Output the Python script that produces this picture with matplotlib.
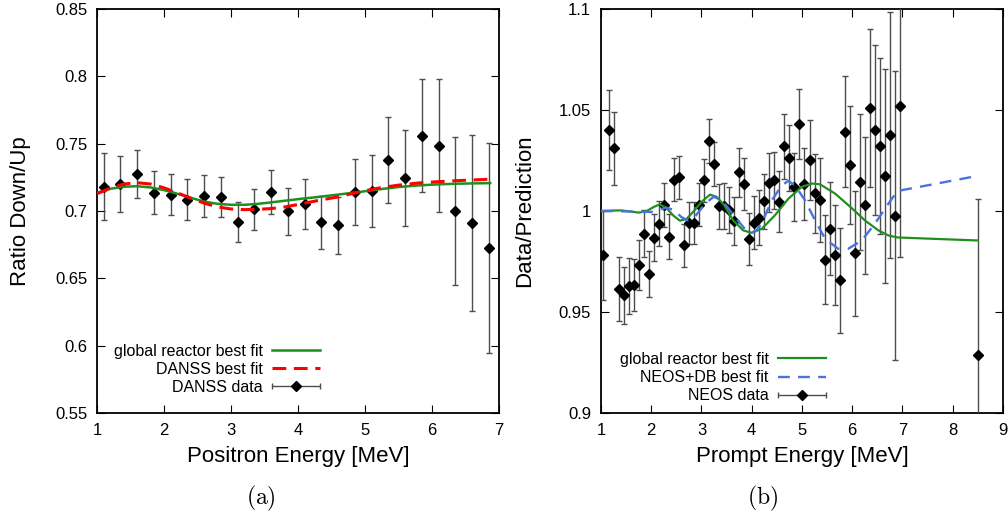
import numpy as np
import matplotlib
matplotlib.use("Agg")
import matplotlib.pyplot as plt
from matplotlib.container import ErrorbarContainer
from matplotlib.legend_handler import HandlerErrorbar

plt.rcParams['font.family'] = ['Liberation Sans', 'DejaVu Sans']
plt.rcParams['mathtext.fontset'] = 'cm'

# (a) DANSS ratio down/up
danss_e = [1.1, 1.35, 1.6, 1.85, 2.1, 2.35, 2.6, 2.85, 3.1, 3.35, 3.6, 3.85,
           4.1, 4.35, 4.6, 4.85, 5.1, 5.35, 5.6, 5.85, 6.1, 6.35, 6.6, 6.85]
danss_r = [0.7179, 0.7199, 0.7275, 0.7136, 0.7122, 0.7084, 0.7112, 0.7102,
           0.6921, 0.7012, 0.7141, 0.6998, 0.7052, 0.6916, 0.6893, 0.7141,
           0.7151, 0.7382, 0.7248, 0.7560, 0.7486, 0.6998, 0.6911, 0.6727]
danss_err = [0.0248, 0.0206, 0.018, 0.016, 0.0155, 0.015, 0.0153, 0.015,
             0.0148, 0.0154, 0.0165, 0.0174, 0.0187, 0.0196, 0.0213, 0.0243,
             0.0268, 0.0319, 0.0357, 0.042, 0.0497, 0.055, 0.065, 0.078]

fit_e_a = [1.0, 1.2, 1.4, 1.6, 1.8, 2.0, 2.2, 2.4, 2.6, 2.8, 3.0, 3.2, 3.4,
           3.6, 3.8, 4.0, 4.3, 4.6, 4.9, 5.2, 5.5, 5.8, 6.1, 6.4, 6.87]
glob_a = [0.7134, 0.7165, 0.7180, 0.7184, 0.7175, 0.7155, 0.7128, 0.7098,
          0.7070, 0.7053, 0.7046, 0.7046, 0.7053, 0.7064, 0.7076, 0.7088,
          0.7104, 0.7122, 0.7140, 0.7160, 0.7178, 0.7190, 0.7198, 0.7203,
          0.7207]
danss_fit = [0.7128, 0.7170, 0.7200, 0.7210, 0.7200, 0.7172, 0.7135, 0.7095,
             0.7058, 0.7030, 0.7015, 0.7010, 0.7012, 0.7018, 0.7030, 0.7048,
             0.7078, 0.7105, 0.7140, 0.7170, 0.7192, 0.7208, 0.7218, 0.7226,
             0.7236]

# (b) NEOS data/prediction
neos_e = [1.05, 1.15, 1.25, 1.35, 1.45, 1.55, 1.65, 1.75, 1.85, 1.95,
          2.05, 2.15, 2.25, 2.35, 2.45, 2.55, 2.65, 2.75, 2.85, 2.95,
          3.05, 3.15, 3.25, 3.35, 3.45, 3.55, 3.65, 3.75, 3.85, 3.95,
          4.05, 4.15, 4.25, 4.35, 4.45, 4.55, 4.65, 4.75, 4.85, 4.95,
          5.05, 5.15, 5.25, 5.35, 5.45, 5.55, 5.65, 5.75, 5.85, 5.95,
          6.05, 6.15, 6.25, 6.35, 6.45, 6.55, 6.65, 6.75, 6.85, 6.95, 8.5]
neos_r = [0.978, 1.0402, 1.031, 0.9613, 0.9583, 0.9629, 0.9634, 0.9733, 0.9887, 0.9687,
          0.9868, 0.9937, 1.0031, 0.9873, 1.0154, 1.0166, 0.983, 0.9939, 0.9939, 1.0031,
          1.0151, 1.0348, 1.0232, 1.0023, 1.0026, 1.0005, 0.9952, 1.0192, 1.0132, 0.9861,
          0.9942, 0.9967, 1.0048, 1.0141, 1.0152, 1.0046, 1.032, 1.0262, 1.0118, 1.043,
          1.0134, 1.025, 1.0088, 1.0053, 0.9758, 0.9912, 0.9783, 0.9656, 1.0392, 1.0228,
          0.979, 1.0142, 1.0028, 1.051, 1.0402, 1.0321, 1.0172, 1.0377, 0.9977, 1.0522, 0.9286]
neos_err = [0.022, 0.0197, 0.018, 0.0157, 0.014, 0.0137, 0.013, 0.0123, 0.0116, 0.0115,
            0.0115, 0.0112, 0.011, 0.011, 0.0107, 0.0108, 0.0108, 0.0104, 0.0104, 0.0106,
            0.0108, 0.0108, 0.011, 0.011, 0.0115, 0.0114, 0.0118, 0.0122, 0.0128, 0.013,
            0.013, 0.0136, 0.0137, 0.0145, 0.0142, 0.015, 0.016, 0.0164, 0.017, 0.0175,
            0.018, 0.0198, 0.0195, 0.0207, 0.022, 0.023, 0.0246, 0.026, 0.0275, 0.029,
            0.031, 0.0337, 0.034, 0.039, 0.042, 0.0435, 0.053, 0.061, 0.0715, 0.075, 0.0775]

glob_e_b = [1.0, 1.2, 1.4, 1.6, 1.75, 1.9, 2.05, 2.17, 2.3, 2.45, 2.57, 2.7,
            2.85, 3.0, 3.17, 3.3, 3.45, 3.63, 3.83, 4.0, 4.2, 4.46, 4.73, 5.0,
            5.2, 5.36, 5.66, 6.0, 6.25, 6.52, 6.72, 6.9, 8.5]
glob_b = [1.0, 1.0002, 1.0003, 0.9997, 0.9992, 0.9998, 1.0020, 1.0033, 1.0015,
          0.9975, 0.9952, 0.9960, 1.0000, 1.0045, 1.0081, 1.0070, 1.0030, 0.9954,
          0.9904, 0.9892, 0.9912, 0.9978, 1.0061, 1.0120, 1.0136, 1.0132, 1.0086,
          1.0012, 0.9954, 0.9904, 0.9879, 0.9869, 0.9854]
neosdb_e = [1.0, 1.5, 2.0, 2.15, 2.3, 2.45, 2.6, 2.72, 2.87, 3.07, 3.24, 3.4,
            3.67, 3.9, 4.0, 4.1, 4.2, 4.4, 4.6, 4.73, 4.86, 5.06, 5.26, 5.46,
            5.72, 5.92, 6.19, 6.45, 6.72, 6.9, 8.5]
neosdb_fit = [1.0, 0.9998, 0.9995, 1.0005, 1.0017, 1.0005, 0.9970, 0.9954, 0.9972,
              1.0036, 1.0070, 1.0055, 0.9970, 0.9900, 0.9893, 0.9905, 0.9940, 1.0053,
              1.0127, 1.0149, 1.0127, 1.0053, 0.9954, 0.9863, 0.9813, 0.9813, 0.9854,
              0.9937, 1.0036, 1.0099, 1.0174]

green = '#1f8f1f'
err_kw = dict(fmt='D', color='black', ms=5.5, ecolor='0.3', elinewidth=1.0,
              capsize=2.5, capthick=1.0)

fig = plt.figure(figsize=(10.08, 5.16), dpi=100)
ax1 = fig.add_axes([0.0962, 0.1996, 0.3988, 0.783])
ax2 = fig.add_axes([0.5962, 0.1996, 0.3988, 0.783])

# panel (a)
ax1.errorbar(danss_e, danss_r, yerr=danss_err, zorder=3, **err_kw)
ax1.plot(fit_e_a, glob_a, color=green, lw=1.8, label='global reactor best fit', zorder=4)
ax1.plot(fit_e_a, danss_fit, color='red', lw=2.2, ls=(0, (4.5, 2.5)), label='DANSS best fit', zorder=4)
p1 = ax1.errorbar([np.nan], [np.nan], xerr=[1], label='DANSS data', **err_kw)
ax1.set_xlim(1, 7)
ax1.set_ylim(0.55, 0.85)
ax1.set_yticks([0.55, 0.6, 0.65, 0.7, 0.75, 0.8, 0.85])
ax1.set_yticklabels(['0.55', '0.6', '0.65', '0.7', '0.75', '0.8', '0.85'])
ax1.set_xlabel('Positron Energy [MeV]', fontsize=16, labelpad=6)
ax1.set_ylabel('Ratio Down/Up', fontsize=16, labelpad=17)

# panel (b)
ax2.errorbar(neos_e, neos_r, yerr=neos_err, zorder=3, **err_kw)
ax2.plot(glob_e_b, glob_b, color=green, lw=1.6, label='global reactor best fit', zorder=4)
ax2.plot(neosdb_e, neosdb_fit, color='#4a72e0', lw=1.7, ls=(0, (5, 3.5)), label='NEOS+DB best fit', zorder=4)
p2 = ax2.errorbar([np.nan], [np.nan], xerr=[1], label='NEOS data', **err_kw)
ax2.set_xlim(1, 9)
ax2.set_ylim(0.9, 1.1)
ax2.set_yticks([0.9, 0.95, 1.0, 1.05, 1.1])
ax2.set_yticklabels(['0.9', '0.95', '1', '1.05', '1.1'])
ax2.set_xlabel('Prompt Energy [MeV]', fontsize=16, labelpad=6)
ax2.set_ylabel('Data/Prediction', fontsize=16, labelpad=17)

for ax, anchor in [(ax1, (0.575, 0.025)), (ax2, (0.58, 0.004))]:
    for s in ax.spines.values():
        s.set_linewidth(1.3)
    ax.tick_params(direction='in', top=True, right=True, length=6, width=0.8,
                   labelsize=12, pad=7)
    h, l = ax.get_legend_handles_labels()
    ax.legend(h, l, loc='lower right', bbox_to_anchor=anchor, frameon=False,
              markerfirst=False, fontsize=11.5, numpoints=1, handlelength=3.0,
              handletextpad=0.6, labelspacing=0.2, borderpad=0,
              handler_map={ErrorbarContainer: HandlerErrorbar(xerr_size=1.5)})

fig.text(261 / 1008, 1 - 498 / 516, r'$\mathrm{(a)}$', fontsize=17, ha='center', va='center')
fig.text(763 / 1008, 1 - 498 / 516, r'$\mathrm{(b)}$', fontsize=17, ha='center', va='center')

fig.savefig('out.png', dpi=100)
